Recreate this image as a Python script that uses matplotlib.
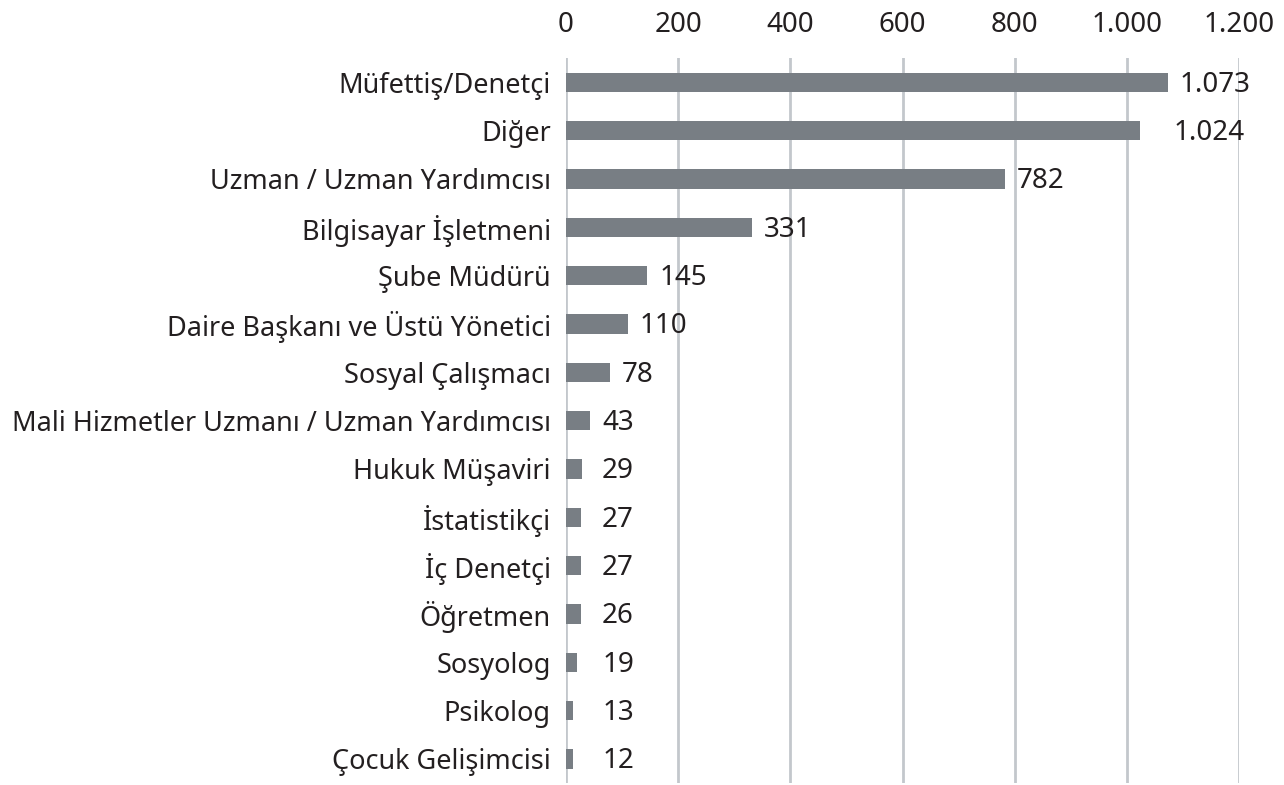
import matplotlib
matplotlib.use("Agg")
import matplotlib.pyplot as plt
from matplotlib.ticker import FuncFormatter

categories = [
    "Müfettiş/Denetçi",
    "Diğer",
    "Uzman / Uzman Yardımcısı",
    "Bilgisayar İşletmeni",
    "Şube Müdürü",
    "Daire Başkanı ve Üstü Yönetici",
    "Sosyal Çalışmacı",
    "Mali Hizmetler Uzmanı / Uzman Yardımcısı",
    "Hukuk Müşaviri",
    "İstatistikçi",
    "İç Denetçi",
    "Öğretmen",
    "Sosyolog",
    "Psikolog",
    "Çocuk Gelişimcisi",
]
values = [1073, 1024, 782, 331, 145, 110, 78, 43, 29, 27, 27, 26, 19, 13, 12]
x_ticks = [0, 200, 400, 600, 800, 1000, 1200]

BAR_COLOR = "#787e84"
GRID_COLOR = "#c3c7cc"
TEXT_COLOR = "#231f20"
FONT = ["Noto Sans", "DejaVu Sans"]

plt.rcParams["font.family"] = FONT

def tr_fmt(v):
    return f"{int(round(v)):,}".replace(",", ".")

fig = plt.figure(figsize=(12.84, 7.85), dpi=100)
ax = fig.add_axes([0.4408, 0.0025, 0.5242, 0.9235])

ypos = list(range(len(categories)))
ax.barh(ypos, values, height=0.4, color=BAR_COLOR, zorder=3)
ax.set_ylim(len(categories) - 0.5, -0.5)
ax.set_xlim(0, 1200)
ax.set_xticks(x_ticks)
ax.xaxis.set_major_formatter(FuncFormatter(lambda v, p: tr_fmt(v)))
ax.xaxis.tick_top()
ax.tick_params(axis="x", length=0, pad=14, labelsize=20, labelcolor=TEXT_COLOR)
ax.set_yticks(ypos)
ax.set_yticklabels(categories)
ax.tick_params(axis="y", length=0, pad=11, labelsize=19.5, labelcolor=TEXT_COLOR)
for s in ax.spines.values():
    s.set_visible(False)
ax.grid(axis="x", color=GRID_COLOR, linewidth=2, zorder=0)
ax.grid(axis="y", visible=False)

label_nudge = {"Diğer": 21}
for y, (c, v) in enumerate(zip(categories, values)):
    xv = max(v, 43)
    ax.annotate(tr_fmt(v), xy=(xv, y), xytext=(12 + label_nudge.get(c, 0), -9.5),
                textcoords="offset pixels",
                ha="left", va="baseline", fontsize=20, color=TEXT_COLOR, zorder=4)

fig.savefig("out.png", dpi=100, facecolor="white")
